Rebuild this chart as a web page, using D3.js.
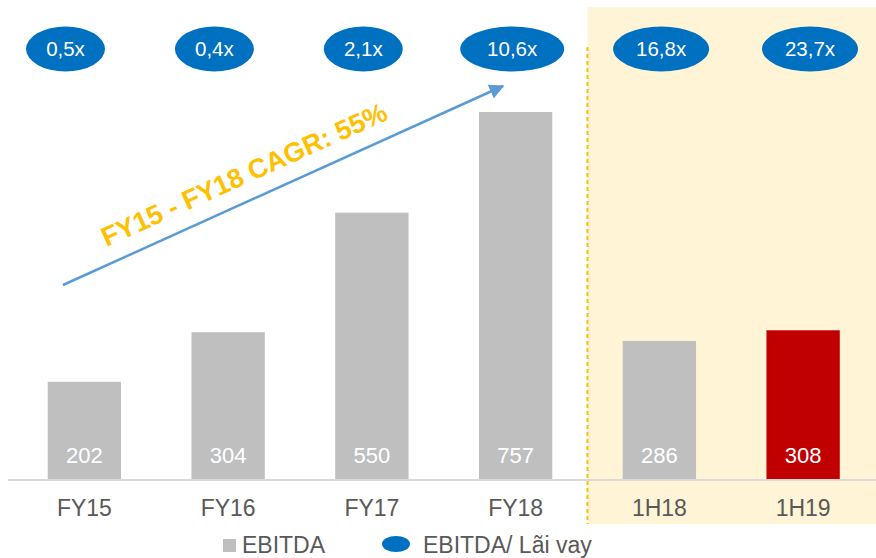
<!DOCTYPE html>
<html>
<head>
<meta charset="utf-8">
<script src="https://cdn.jsdelivr.net/npm/d3@7"></script>
<style>
  html, body { margin: 0; padding: 0; background: #fff; }
  svg { display: block; font-family: Arial, "Liberation Sans", sans-serif; }
</style>
</head>
<body>
<svg id="chart" width="876" height="558"></svg>
<script>
'use strict';
// Data
const categories = ['FY15', 'FY16', 'FY17', 'FY18', '1H18', '1H19'];
const ebitda = [202, 304, 550, 757, 286, 308];
const coverage = ['0,5x', '0,4x', '2,1x', '10,6x', '16,8x', '23,7x'];
const cagrLabel = 'FY15 - FY18 CAGR: 55%';
const legendLabels = ['EBITDA', 'EBITDA/ Lãi vay'];

const svg = d3.select('#chart');
const baseY = 480;

const x = d3.scaleBand().domain(categories).range([12.5, 875])
  .paddingInner(0.49).paddingOuter(0.245);
const y = d3.scaleLinear().domain([0, 757]).range([baseY, 112]);
// ellipses sit on their own, slightly shifted grid
const xe = d3.scalePoint().domain(categories).range([65.5, 810]);

// Half-year highlight area
const splitX = (x('FY18') + x.bandwidth() + x('1H18')) / 2;
svg.append('rect')
  .attr('x', splitX).attr('y', 7)
  .attr('width', 876 - splitX).attr('height', 524 - 7)
  .attr('fill', '#FFF4D6');

svg.append('line')
  .attr('x1', splitX).attr('x2', splitX)
  .attr('y1', 47).attr('y2', 524)
  .attr('stroke', '#FFC000').attr('stroke-width', 2)
  .attr('stroke-dasharray', '4,3');

// Bars
const rows = categories.map((c, i) => ({cat: c, value: ebitda[i], ratio: coverage[i]}));
svg.append('g').selectAll('rect').data(rows).enter().append('rect')
  .attr('x', d => x(d.cat))
  .attr('y', d => y(d.value))
  .attr('width', x.bandwidth())
  .attr('height', d => baseY - y(d.value))
  .attr('fill', d => d.cat === '1H19' ? '#C00000' : '#BFBFBF');

svg.append('g').selectAll('text').data(rows).enter().append('text')
  .attr('x', d => x(d.cat) + x.bandwidth() / 2)
  .attr('y', 463)
  .attr('text-anchor', 'middle')
  .attr('fill', '#fff')
  .style('font-size', '22px')
  .text(d => d.value);

// Baseline + category labels
svg.append('line')
  .attr('x1', 8).attr('x2', 876)
  .attr('y1', baseY).attr('y2', baseY)
  .attr('stroke', '#D9D9D9').attr('stroke-width', 2);

svg.append('g').selectAll('text').data(categories).enter().append('text')
  .attr('x', d => x(d) + x.bandwidth() / 2)
  .attr('y', 516)
  .attr('text-anchor', 'middle')
  .attr('fill', '#595959')
  .style('font-size', '23px')
  .text(d => d);

// Coverage ellipses
const ell = svg.append('g').selectAll('g').data(rows).enter().append('g')
  .attr('transform', d => `translate(${xe(d.cat)},49)`);
ell.append('ellipse')
  .attr('rx', d => d.ratio.length > 4 ? (d.cat.startsWith('1H') ? 48 : 52) : 39.5)
  .attr('ry', 22.5)
  .attr('fill', '#0070C0');
ell.append('text')
  .attr('text-anchor', 'middle')
  .attr('dy', 7)
  .attr('fill', '#fff')
  .style('font-size', '20.5px')
  .text(d => d.ratio);

// CAGR arrow
svg.append('defs').append('marker')
  .attr('id', 'head')
  .attr('viewBox', '0 0 10 10')
  .attr('refX', 9).attr('refY', 5)
  .attr('markerWidth', 6).attr('markerHeight', 6)
  .attr('markerUnits', 'strokeWidth')
  .attr('orient', 'auto')
  .append('path').attr('d', 'M0,0L10,5L0,10Z').attr('fill', '#5B9BD5');

svg.append('line')
  .attr('x1', 63).attr('y1', 285)
  .attr('x2', 503).attr('y2', 86)
  .attr('stroke', '#5B9BD5').attr('stroke-width', 2.5)
  .attr('marker-end', 'url(#head)');

const ang = Math.atan2(86 - 285, 503 - 63) * 180 / Math.PI;
svg.append('text')
  .attr('transform', `translate(248,183) rotate(${ang})`)
  .attr('text-anchor', 'middle')
  .attr('fill', '#FFC000')
  .style('font-size', '27px')
  .style('font-weight', 'bold')
  .text(cagrLabel);

// Legend
const leg = svg.append('g');
leg.append('rect')
  .attr('x', 223).attr('y', 539).attr('width', 13).attr('height', 13)
  .attr('fill', '#BFBFBF');
leg.append('text')
  .attr('x', 242).attr('y', 553)
  .attr('fill', '#595959').style('font-size', '23px')
  .text(legendLabels[0]);
leg.append('ellipse')
  .attr('cx', 396).attr('cy', 544).attr('rx', 14).attr('ry', 8)
  .attr('fill', '#0070C0');
leg.append('text')
  .attr('x', 423).attr('y', 553)
  .attr('fill', '#595959').style('font-size', '23px')
  .text(legendLabels[1]);
</script>
</body>
</html>
